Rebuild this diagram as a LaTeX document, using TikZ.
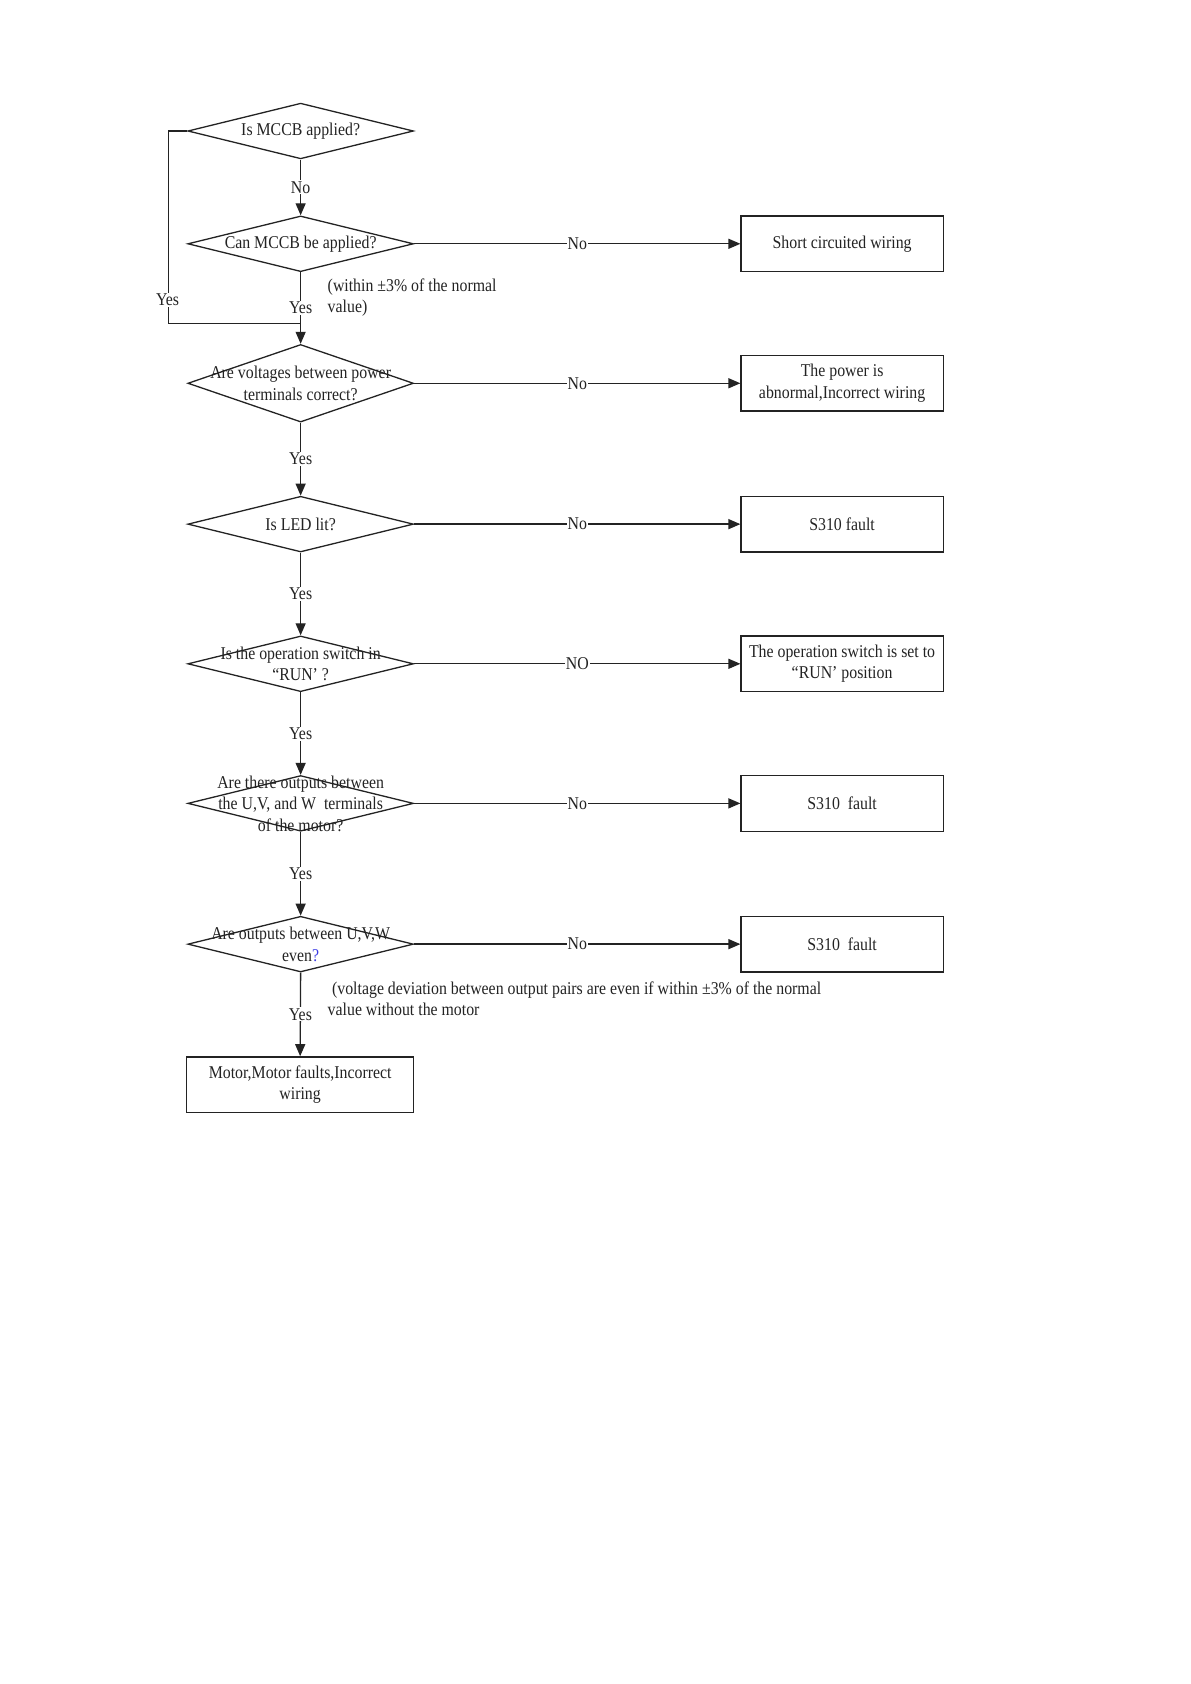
\documentclass[tikz,border=0pt]{standalone}
\usepackage{fontspec}
\setmainfont{Liberation Serif}[FakeStretch=0.88]
\usetikzlibrary{shapes.geometric,arrows.meta}
\definecolor{ink}{RGB}{35,35,35}
\definecolor{qblue}{RGB}{60,60,230}
\begin{document}
\begin{tikzpicture}[x=0.9955pt,y=-0.9955pt,
  font=\fontsize{18}{21.5}\selectfont,
  dec/.style={draw=ink, line width=1.3pt, diamond, minimum width=225.6pt, minimum height=55.7pt, inner sep=0pt},
  res/.style={draw=ink, line width=1.3pt, rectangle, minimum width=202.1pt, minimum height=55.7pt, inner sep=0pt, align=center, text=ink},
  lbl/.style={fill=white, inner sep=1pt, text=ink},
  ln/.style={draw=ink, line width=1.3pt},
  arr/.style={draw=ink, line width=1.3pt, -{Triangle[length=12pt,width=10pt]}},
  note/.style={anchor=west, align=left, inner sep=0pt, text=ink}]
\useasboundingbox (0,0) rectangle (1195.4,1691.6);
\fill[white] (0,0) rectangle (1195.4,1691.6);

% decisions
\node[dec, label={[align=center,text=ink]center:Is MCCB applied?}] (d1) at (302,131.6) {};
\node[dec, label={[align=center,text=ink]center:Can MCCB be applied?}] (d2) at (302,244.9) {};
\node[dec, minimum height=77.6pt, label={[align=center,text=ink]center:{Are voltages between power\\terminals correct?}}] (d3) at (302,385) {};
\node[dec, label={[align=center,text=ink]center:Is LED lit?}] (d4) at (302,526.5) {};
\node[dec, label={[align=center,text=ink]center:{Is the operation switch in\\“RUN’ ?}}] (d5) at (302,666.8) {};
\node[dec, label={[align=center,text=ink]center:{Are there outputs between\\the U,V, and W\ \ terminals\\of the motor?}}] (d6) at (302,807) {};
\node[dec, label={[align=center,text=ink]center:{Are outputs between U,V,W\\even\textcolor{qblue}{?}}}] (d7) at (302,948.4) {};

% results
\node[res] (r1) at (845.9,244.9) {Short circuited wiring};
\node[res] (r2) at (845.9,385) {The power is\\abnormal,Incorrect wiring};
\node[res] (r3) at (845.9,526.5) {S310 fault};
\node[res] (r4) at (845.9,666.8) {The operation switch is set to\\“RUN’ position};
\node[res] (r5) at (845.9,807) {S310\ \ fault};
\node[res] (r6) at (845.9,948.4) {S310\ \ fault};
\node[res, minimum width=226.7pt] (fin) at (301.5,1089.6) {Motor,Motor faults,Incorrect\\wiring};

% vertical flow
\draw[arr] (d1.south) -- node[lbl]{No} (d2.north);
\draw[arr] (d2.south) -- node[lbl]{Yes} (d3.north);
\draw[arr] (d3.south) -- node[lbl]{Yes} (d4.north);
\draw[arr] (d4.south) -- node[lbl]{Yes} (d5.north);
\draw[arr] (d5.south) -- node[lbl]{Yes} (d6.north);
\draw[arr] (d6.south) -- node[lbl]{Yes} (d7.north);
\draw[arr] (d7.south) -- node[lbl]{Yes} (fin.north);

% loop from first decision
\coordinate (lc) at (169.4,324.7);
\coordinate (j) at (302,324.7);
\draw[ln] (d1.west) -| (lc) -- (j);
\node[lbl] (yl) at (168.3,301) {Yes};

% horizontal No branches
\draw[arr] (d2.east) -- node[lbl]{No} (r1.west);
\draw[arr] (d3.east) -- node[lbl]{No} (r2.west);
\draw[arr] (d4.east) -- node[lbl]{No} (r3.west);
\draw[arr] (d5.east) -- node[lbl]{NO} (r4.west);
\draw[arr] (d6.east) -- node[lbl]{No} (r5.west);
\draw[arr] (d7.east) -- node[lbl]{No} (r6.west);

% notes
\node[note] (n1) at (329,298.8) {(within ±3\% of the normal\\value)};
\node[note] (n2) at (329,1003.3) {\hspace{4.4pt}(voltage deviation between output pairs are even if within ±3\% of the normal\\value without the motor};
\end{tikzpicture}
\end{document}
